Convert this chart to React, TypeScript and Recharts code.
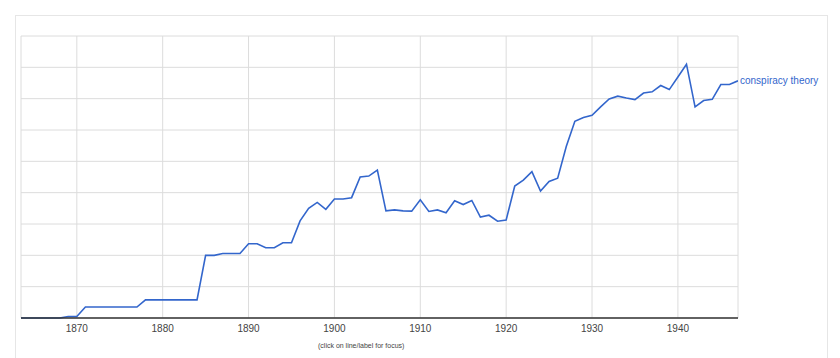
import { LineChart, Line, XAxis, YAxis, CartesianGrid } from "recharts";

const years = [
  1863, 1864, 1865, 1866, 1867, 1868, 1869,
  1870, 1871, 1872, 1873, 1874, 1875, 1876, 1877, 1878, 1879,
  1880, 1881, 1882, 1883, 1884, 1885, 1886, 1887, 1888, 1889,
  1890, 1891, 1892, 1893, 1894, 1895, 1896, 1897, 1898, 1899,
  1900, 1901, 1902, 1903, 1904, 1905, 1906, 1907, 1908, 1909,
  1910, 1911, 1912, 1913, 1914, 1915, 1916, 1917, 1918, 1919,
  1920, 1921, 1922, 1923, 1924, 1925, 1926, 1927, 1928, 1929,
  1930, 1931, 1932, 1933, 1934, 1935, 1936, 1937, 1938, 1939,
  1940, 1941, 1942, 1943, 1944, 1945, 1946, 1947,
];

// "conspiracy theory" frequency, in gridline units (axis is unlabelled)
const conspiracyTheory = [
  0, 0, 0, 0, 0, 0, 0.05,
  0.05, 0.35, 0.35, 0.35, 0.35, 0.35, 0.35, 0.35, 0.58, 0.58,
  0.58, 0.58, 0.58, 0.58, 0.58, 2.0, 2.0, 2.06, 2.06, 2.06,
  2.37, 2.37, 2.24, 2.24, 2.4, 2.4, 3.1, 3.5, 3.69, 3.47,
  3.8, 3.8, 3.84, 4.5, 4.53, 4.72, 3.42, 3.45, 3.42, 3.41,
  3.77, 3.4, 3.45, 3.36, 3.74, 3.62, 3.75, 3.22, 3.28, 3.09,
  3.13, 4.21, 4.4, 4.67, 4.05, 4.36, 4.46, 5.47, 6.28, 6.4,
  6.47, 6.74, 6.99, 7.08, 7.02, 6.97, 7.18, 7.22, 7.42, 7.29,
  7.69, 8.1, 6.74, 6.94, 6.98, 7.45, 7.45, 7.57,
];

const xTicks = [1870, 1880, 1890, 1900, 1910, 1920, 1930, 1940];
const yTicks = [0, 1, 2, 3, 4, 5, 6, 7, 8, 9];
const seriesName = "conspiracy theory";

const data = years.map((year, i) => ({ year, value: conspiracyTheory[i] }));

const font = "Arial, 'Liberation Sans', sans-serif";

// draws the series name next to the last point only
function EndLabel(props: any) {
  const { x, y, index } = props;
  if (index !== data.length - 1) return null;
  return (
    <text
      x={x + 2}
      y={y}
      dy={3}
      fontSize={10}
      fontFamily={font}
      fill='#3366cc'
    >
      {seriesName}
    </text>
  );
}

export default function App() {
  return (
    <div
      style={{
        position: "absolute",
        left: 0,
        top: 0,
        width: 840,
        height: 358,
        background: "#fff",
        overflow: "hidden",
      }}
    >
      <div
        style={{
          position: "absolute",
          left: 15,
          top: 15,
          width: 811,
          height: 360,
          border: "1px solid #e6e6e6",
          borderBottom: "none",
        }}
      />
      <div style={{ position: "absolute", left: 0, top: 0 }}>
        <LineChart
          width={840}
          height={358}
          data={data}
          margin={{ top: 36, right: 102, bottom: 10, left: 21 }}
        >
          <CartesianGrid stroke='#dcdcdc' strokeWidth={1} />
          <XAxis
            dataKey='year'
            type='number'
            domain={[1863.5, 1947]}
            allowDataOverflow
            ticks={xTicks}
            height={30}
            tickSize={0}
            tickMargin={7}
            tick={{ fontSize: 10, fill: "#444", fontFamily: font }}
            axisLine={{ stroke: "#333", strokeWidth: 1.5 }}
          />
          <YAxis hide domain={[0, 9]} ticks={yTicks} />
          <Line
            type='linear'
            dataKey='value'
            stroke='#3366cc'
            strokeWidth={1.6}
            dot={false}
            label={<EndLabel />}
            isAnimationActive={false}
          />
        </LineChart>
      </div>
      <div
        style={{
          position: "absolute",
          left: 318,
          top: 342,
          fontSize: 7,
          fontFamily: font,
          color: "#444",
          whiteSpace: "nowrap",
        }}
      >
        (click on line/label for focus)
      </div>
    </div>
  );
}
